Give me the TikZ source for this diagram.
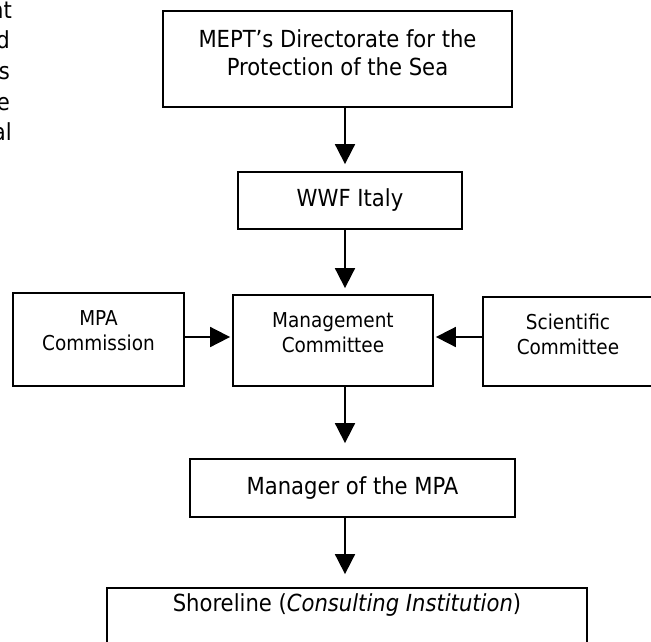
\documentclass[tikz,border=0pt]{standalone}
\usepackage{fontspec}
\setmainfont{DejaVu Sans Condensed}
\usetikzlibrary{arrows.meta}

\tikzset{
  box/.style={draw, line width=1.8pt, inner sep=0pt},
  arr/.style={line width=1.8pt, -{Triangle[width=20pt,length=20pt]}},
  bigtxt/.style={font=\fontsize{23.5}{28}\selectfont, align=center},
  smalltxt/.style={font=\fontsize{20.5}{25}\selectfont, align=center},
}

\begin{document}
\begin{tikzpicture}[x=1pt,y=-1pt]
\useasboundingbox (0,0) rectangle (651,641);
\clip (0,0) rectangle (651,641);
% cut lines of the page text on the left
\foreach \t/\x/\y [count=\i] in {nt/12/18,d/10/48,s/10/79,e/10/110,al/12/140}
  \node[bigtxt, inner sep=0pt, anchor=base east] (frag\i) at (\x,\y) {\t};

% boxes
\node[box, minimum width=349pt, minimum height=96pt,
  label={[bigtxt, yshift=6pt]center:MEPT’s Directorate for the\\Protection of the Sea}] (mept) at (337.5,59) {};
\node[box, bigtxt, minimum width=224pt, minimum height=57pt] (wwf) at (350,200.5) {WWF Italy};
\node[box, minimum width=200pt, minimum height=91pt,
  label={[smalltxt, yshift=8pt]center:Management\\Committee}] (mgmt) at (333,340.5) {};
\node[box, minimum width=171pt, minimum height=93pt,
  label={[smalltxt, yshift=9pt]center:MPA\\Commission}] (mpa) at (98.5,339.5) {};
\node[box, minimum width=170pt, minimum height=89pt,
  label={[smalltxt, yshift=7.5pt]center:Scientific\\Committee}] (sci) at (568,341.5) {};
\node[box, bigtxt, minimum width=325pt, minimum height=58pt] (mgr) at (352.5,488) {Manager of the MPA};
\node[box, minimum width=480pt, minimum height=64pt,
  label={[bigtxt, yshift=15pt]center:Shoreline (\textit{Consulting Institution})}] (shore) at (347,620) {};

% arrows
\coordinate (spine) at (345,0);
\coordinate (midrow) at (0,337);
\draw[arr, shorten >=7pt] (mept.south -| spine) -- (wwf.north -| spine);
\draw[arr, shorten >=6pt] (wwf.south -| spine) -- (mgmt.north -| spine);
\draw[arr, shorten >=15pt] (mgmt.south -| spine) -- (mgr.north -| spine);
\draw[arr, shorten >=13pt] (mgr.south -| spine) -- (shore.north -| spine);
\draw[arr, shorten >=2pt] (mpa.east |- midrow) -- (mgmt.west |- midrow);
\draw[arr, shorten >=2pt] (sci.west |- midrow) -- (mgmt.east |- midrow);
\end{tikzpicture}
\end{document}
